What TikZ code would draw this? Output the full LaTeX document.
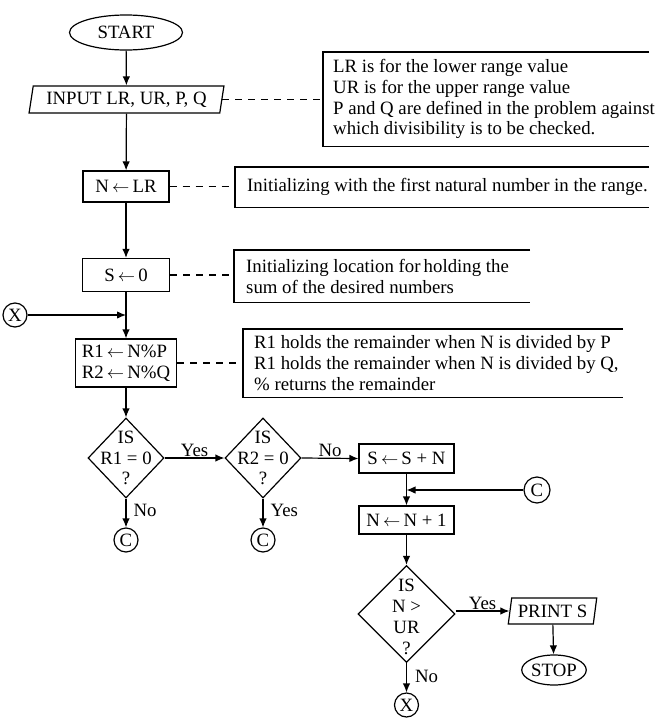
\documentclass[tikz,border=0pt]{standalone}
\usepackage{fontspec}
\setmainfont{Liberation Serif}
\usetikzlibrary{shapes.geometric,arrows.meta,calc}
\newcommand{\assignarrow}{\,$\leftarrow$\,}

\begin{document}
\begin{tikzpicture}[x=1pt,y=-1pt,
  every node/.style={font=\fontsize{18.8}{20.7}\selectfont},
  flow/.style={line width=1.2pt,-{Latex[length=9pt,width=7.5pt]}},
  proc/.style={draw,line width=1.2pt,rectangle,inner sep=0pt},
  io/.style={draw,line width=1.2pt,trapezium,trapezium left angle=77,
    trapezium right angle=103,trapezium stretches=true,inner sep=0pt},
  term/.style={draw,line width=1.2pt,ellipse,inner sep=0pt},
  decision/.style={draw,line width=1.2pt,diamond,inner sep=0pt},
  conn/.style={draw,line width=1.2pt,circle,inner sep=0pt,minimum size=24pt},
  note/.style={align=left,anchor=north west,inner ysep=0pt},
  comment/.style={line width=1.2pt,dash pattern=on 7pt off 6pt},
  bracket/.style={line width=1.2pt},
  lab/.style={inner sep=1pt}
]
\useasboundingbox (0,0) rectangle (665,720);

% main column
\node[term,minimum width=113pt,minimum height=35pt] (start) at (126,32.5) {START};
\node[io,minimum width=195pt,minimum height=27pt] (input) at (126.5,99.5) {INPUT LR, UR, P, Q};
\node[proc,minimum width=86pt,minimum height=31pt] (nlr) at (126,186.5) {N\assignarrow LR};
\node[proc,minimum width=87pt,minimum height=33pt] (s0) at (126,275) {S\assignarrow 0};
\node[conn] (xin) at (15,315) {X};
\coordinate (jx) at (126,315);
\node[proc,minimum width=101pt,minimum height=48pt,align=left] (r12) at (126,363) {R1\assignarrow N\%P\\R2\assignarrow N\%Q};
\node[decision,minimum width=76pt,minimum height=80pt] (d1) at (126,458) {};
\node (d1t) at (126,458) [align=center] {IS\\R1 = 0\\?};
\node[decision,minimum width=76pt,minimum height=80pt] (d2) at (263,458) {};
\node (d2t) at (263,458) [align=center] {IS\\R2 = 0\\?};
\node[conn] (c1) at (126,540) {C};
\node[conn] (c2) at (263,540) {C};

% right column
\node[proc,minimum width=95pt,minimum height=29pt] (ssn) at (406.5,458.5) {S\assignarrow S + N};
\node[conn,minimum size=26pt] (cr) at (537,490) {C};
\coordinate (jc) at (406.5,490);
\node[proc,minimum width=95pt,minimum height=28pt] (nn1) at (406.5,520) {N\assignarrow N + 1};
\node[decision,minimum width=97pt,minimum height=97pt] (d3) at (406.5,614) {};
\node (d3t) at (406.5,617) [align=center,font=\fontsize{18.8}{21}\selectfont] {IS\\N >\\UR\\?};
\node[io,minimum width=89pt,minimum height=26pt] (print) at (552.5,611) {PRINT S};
\node[term,minimum width=62pt,minimum height=30pt] (stop) at (554,670) {STOP};
\node[conn] (xout) at (406.5,705) {X};

% notes
\node[note,inner xsep=10pt,minimum height=94pt] (n1) at (323,52)
  {LR is for the lower range value\\UR is for the upper range value\\P and Q are defined in the problem against\\which divisibility is to be checked.};
\node[note,inner xsep=12pt,minimum height=40pt] (n2) at (235,167)
  {Initializing with the first natural number in the range.};
\node[note,inner xsep=12pt,minimum height=52pt] (n3) at (234,250)
  {Initializing location for\,holding the\\sum of the desired numbers};
\node[note,inner xsep=11pt,minimum height=68pt] (n4) at (243,329)
  {R1 holds the remainder when N is divided by P\\R1 holds the remainder when N is divided by Q,\\\% returns the remainder};

\draw[bracket] ($(n1.north west)+(326,0)$) -- (n1.north west) -- (n1.south west) -- ($(n1.south west)+(326,0)$);
\draw[bracket] ($(n2.north west)+(414,0)$) -- (n2.north west) -- (n2.south west) -- ($(n2.south west)+(414,0)$);
\draw[bracket] ($(n3.north west)+(296,0)$) -- (n3.north west) -- (n3.south west) -- ($(n3.south west)+(296,0)$);
\draw[bracket] ($(n4.north west)+(380,0)$) -- (n4.north west) -- (n4.south west) -- ($(n4.south west)+(380,0)$);

\draw[comment] (input.east) -- (input.east -| n1.west);
\draw[comment] (nlr.east) -- (nlr.east -| n2.west);
\draw[comment] (s0.east) -- (s0.east -| n3.west);
\draw[comment] (r12.east) -- (r12.east -| n4.west);

% flow lines
\draw[flow] (start) -- (input);
\draw[flow] (input) -- (nlr);
\draw[flow] (nlr) -- (s0);
\draw[flow] (s0) -- (r12);
\draw[flow] (xin) -- (jx);
\draw[flow] (r12) -- (d1);
\draw[flow] (d1.east) -- node[lab,above] {Yes} (d2.west);
\draw[flow] (d1.south) -- node[lab,right,inner xsep=7pt,pos=0.4] {No} (c1);
\draw[flow] (d2.east) -- node[lab,above] {No} (ssn.west);
\draw[flow] (d2.south) -- node[lab,right,inner xsep=7pt,pos=0.4] {Yes} (c2);
\draw[flow] (ssn) -- (nn1);
\draw[flow] (cr) -- (jc);
\draw[flow] (nn1) -- (d3);
\draw[flow] (d3.east |- print.west) -- node[lab,above] {Yes} (print.west);
\draw[flow] (print) -- (stop);
\draw[flow] (d3.south) -- node[lab,right,inner xsep=8pt,pos=0.45] {No} (xout);
\end{tikzpicture}
\end{document}
